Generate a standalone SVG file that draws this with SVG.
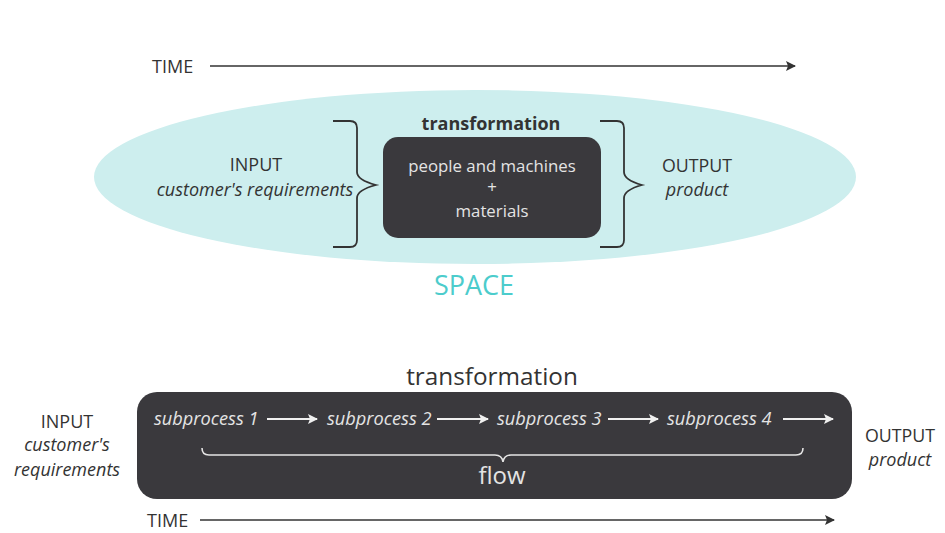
<svg xmlns="http://www.w3.org/2000/svg" width="945" height="533" viewBox="0 0 945 533">
  <style>
    text { font-family: "Open Sans", "Liberation Sans", sans-serif; }
    .dark { fill: #333333; }
    .light { fill: #e4e4e4; }
    .it { font-style: italic; }
    .mid { text-anchor: middle; }
    .brace { fill: none; stroke: #333333; stroke-width: 1.8; }
    .wbrace { fill: none; stroke: #e4e4e4; stroke-width: 1.6; }
    .tline { stroke: #333333; stroke-width: 1.7; fill: none; }
    .wline { stroke: #f0f0f0; stroke-width: 1.8; fill: none; }
  </style>
  <defs>
    <marker id="ah-dark" viewBox="0 0 10 10" refX="9" refY="5" markerWidth="11" markerHeight="10" markerUnits="userSpaceOnUse" orient="auto">
      <path d="M0,0 L10,5 L0,10 L2,5 Z" fill="#333333"/>
    </marker>
    <marker id="ah-light" viewBox="0 0 10 10" refX="9" refY="5" markerWidth="11" markerHeight="10" markerUnits="userSpaceOnUse" orient="auto">
      <path d="M0,0 L10,5 L0,10 L2,5 Z" fill="#f0f0f0"/>
    </marker>
  </defs>
  <rect width="945" height="533" fill="#ffffff"/>

  <!-- upper model: transformation in space -->
  <g id="space">
    <ellipse cx="475" cy="177" rx="381" ry="87" fill="#cdeeee"/>
    <text class="mid" x="474" y="295" font-size="27" fill="#4ccccc">SPACE</text>
  </g>
  <g id="time-top">
    <text class="dark" x="152" y="73" font-size="18">TIME</text>
  </g>
  <g id="input-top">
    <text class="dark mid" x="256" y="171" font-size="18">INPUT</text>
    <text class="dark mid it" x="255" y="196" font-size="18">customer's requirements</text>
  </g>
  <g id="transformation-top">
    <text class="dark mid" x="491" y="130" font-size="18" font-weight="bold">transformation</text>
    <rect x="383" y="137" width="218" height="101" rx="15" fill="#3a393d"/>
    <text class="light mid" x="492" y="172" font-size="16.8">people and machines</text>
    <text class="light mid" x="492" y="193" font-size="16.8">+</text>
    <text class="light mid" x="492" y="217" font-size="16.8">materials</text>
  </g>
  <g id="output-top">
    <text class="dark mid" x="697" y="172" font-size="17.8">OUTPUT</text>
    <text class="dark mid it" x="697" y="196" font-size="18">product</text>
  </g>

  <!-- lower model: transformation as a flow of subprocesses -->
  <g id="input-bottom">
    <text class="dark mid" x="67" y="428" font-size="18">INPUT</text>
    <text class="dark mid it" x="67" y="451" font-size="18">customer's</text>
    <text class="dark mid it" x="67" y="476" font-size="18">requirements</text>
  </g>
  <g id="transformation-bottom">
    <text class="dark mid" x="492" y="385" font-size="24.3">transformation</text>
    <rect x="137" y="392" width="715" height="107" rx="20" fill="#3a393d"/>
  </g>
  <g id="subprocess-1"><text class="light it" x="154" y="425" font-size="18.2">subprocess 1</text></g>
  <g id="subprocess-2"><text class="light it" x="327" y="425" font-size="18.2">subprocess 2</text></g>
  <g id="subprocess-3"><text class="light it" x="497" y="425" font-size="18.2">subprocess 3</text></g>
  <g id="subprocess-4"><text class="light it" x="667" y="425" font-size="18.2">subprocess 4</text></g>
  <g id="flow">
    <text class="light mid" x="502" y="484" font-size="24">flow</text>
  </g>
  <g id="output-bottom">
    <text class="dark mid" x="900" y="442" font-size="17.8">OUTPUT</text>
    <text class="dark mid it" x="900" y="466" font-size="18">product</text>
  </g>
  <g id="time-bottom">
    <text class="dark" x="147" y="527" font-size="18">TIME</text>
  </g>

  <g id="connectors">
    <line class="tline" x1="210" y1="66" x2="795" y2="66" marker-end="url(#ah-dark)"/>
    <path class="brace" d="M333,121 H350 Q357,121 357,128 V172 Q357,180 376,185 Q357,190 357,198 V240 Q357,247 350,247 H333"/>
    <path class="brace" d="M600,121 H617 Q624,121 624,128 V172 Q624,180 642,185 Q624,190 624,198 V240 Q624,247 617,247 H600"/>
    <line class="wline" x1="267" y1="419" x2="317" y2="419" marker-end="url(#ah-light)"/>
    <line class="wline" x1="437" y1="419" x2="488" y2="419" marker-end="url(#ah-light)"/>
    <line class="wline" x1="608" y1="419" x2="658" y2="419" marker-end="url(#ah-light)"/>
    <line class="wline" x1="783" y1="419" x2="833" y2="419" marker-end="url(#ah-light)"/>
    <path class="wbrace" d="M202,448 Q202,455 209,455 H495 Q502,455 503,462 Q504,455 511,455 H796 Q803,455 803,448"/>
    <line class="tline" x1="200" y1="520" x2="834" y2="520" marker-end="url(#ah-dark)"/>
  </g>
</svg>
